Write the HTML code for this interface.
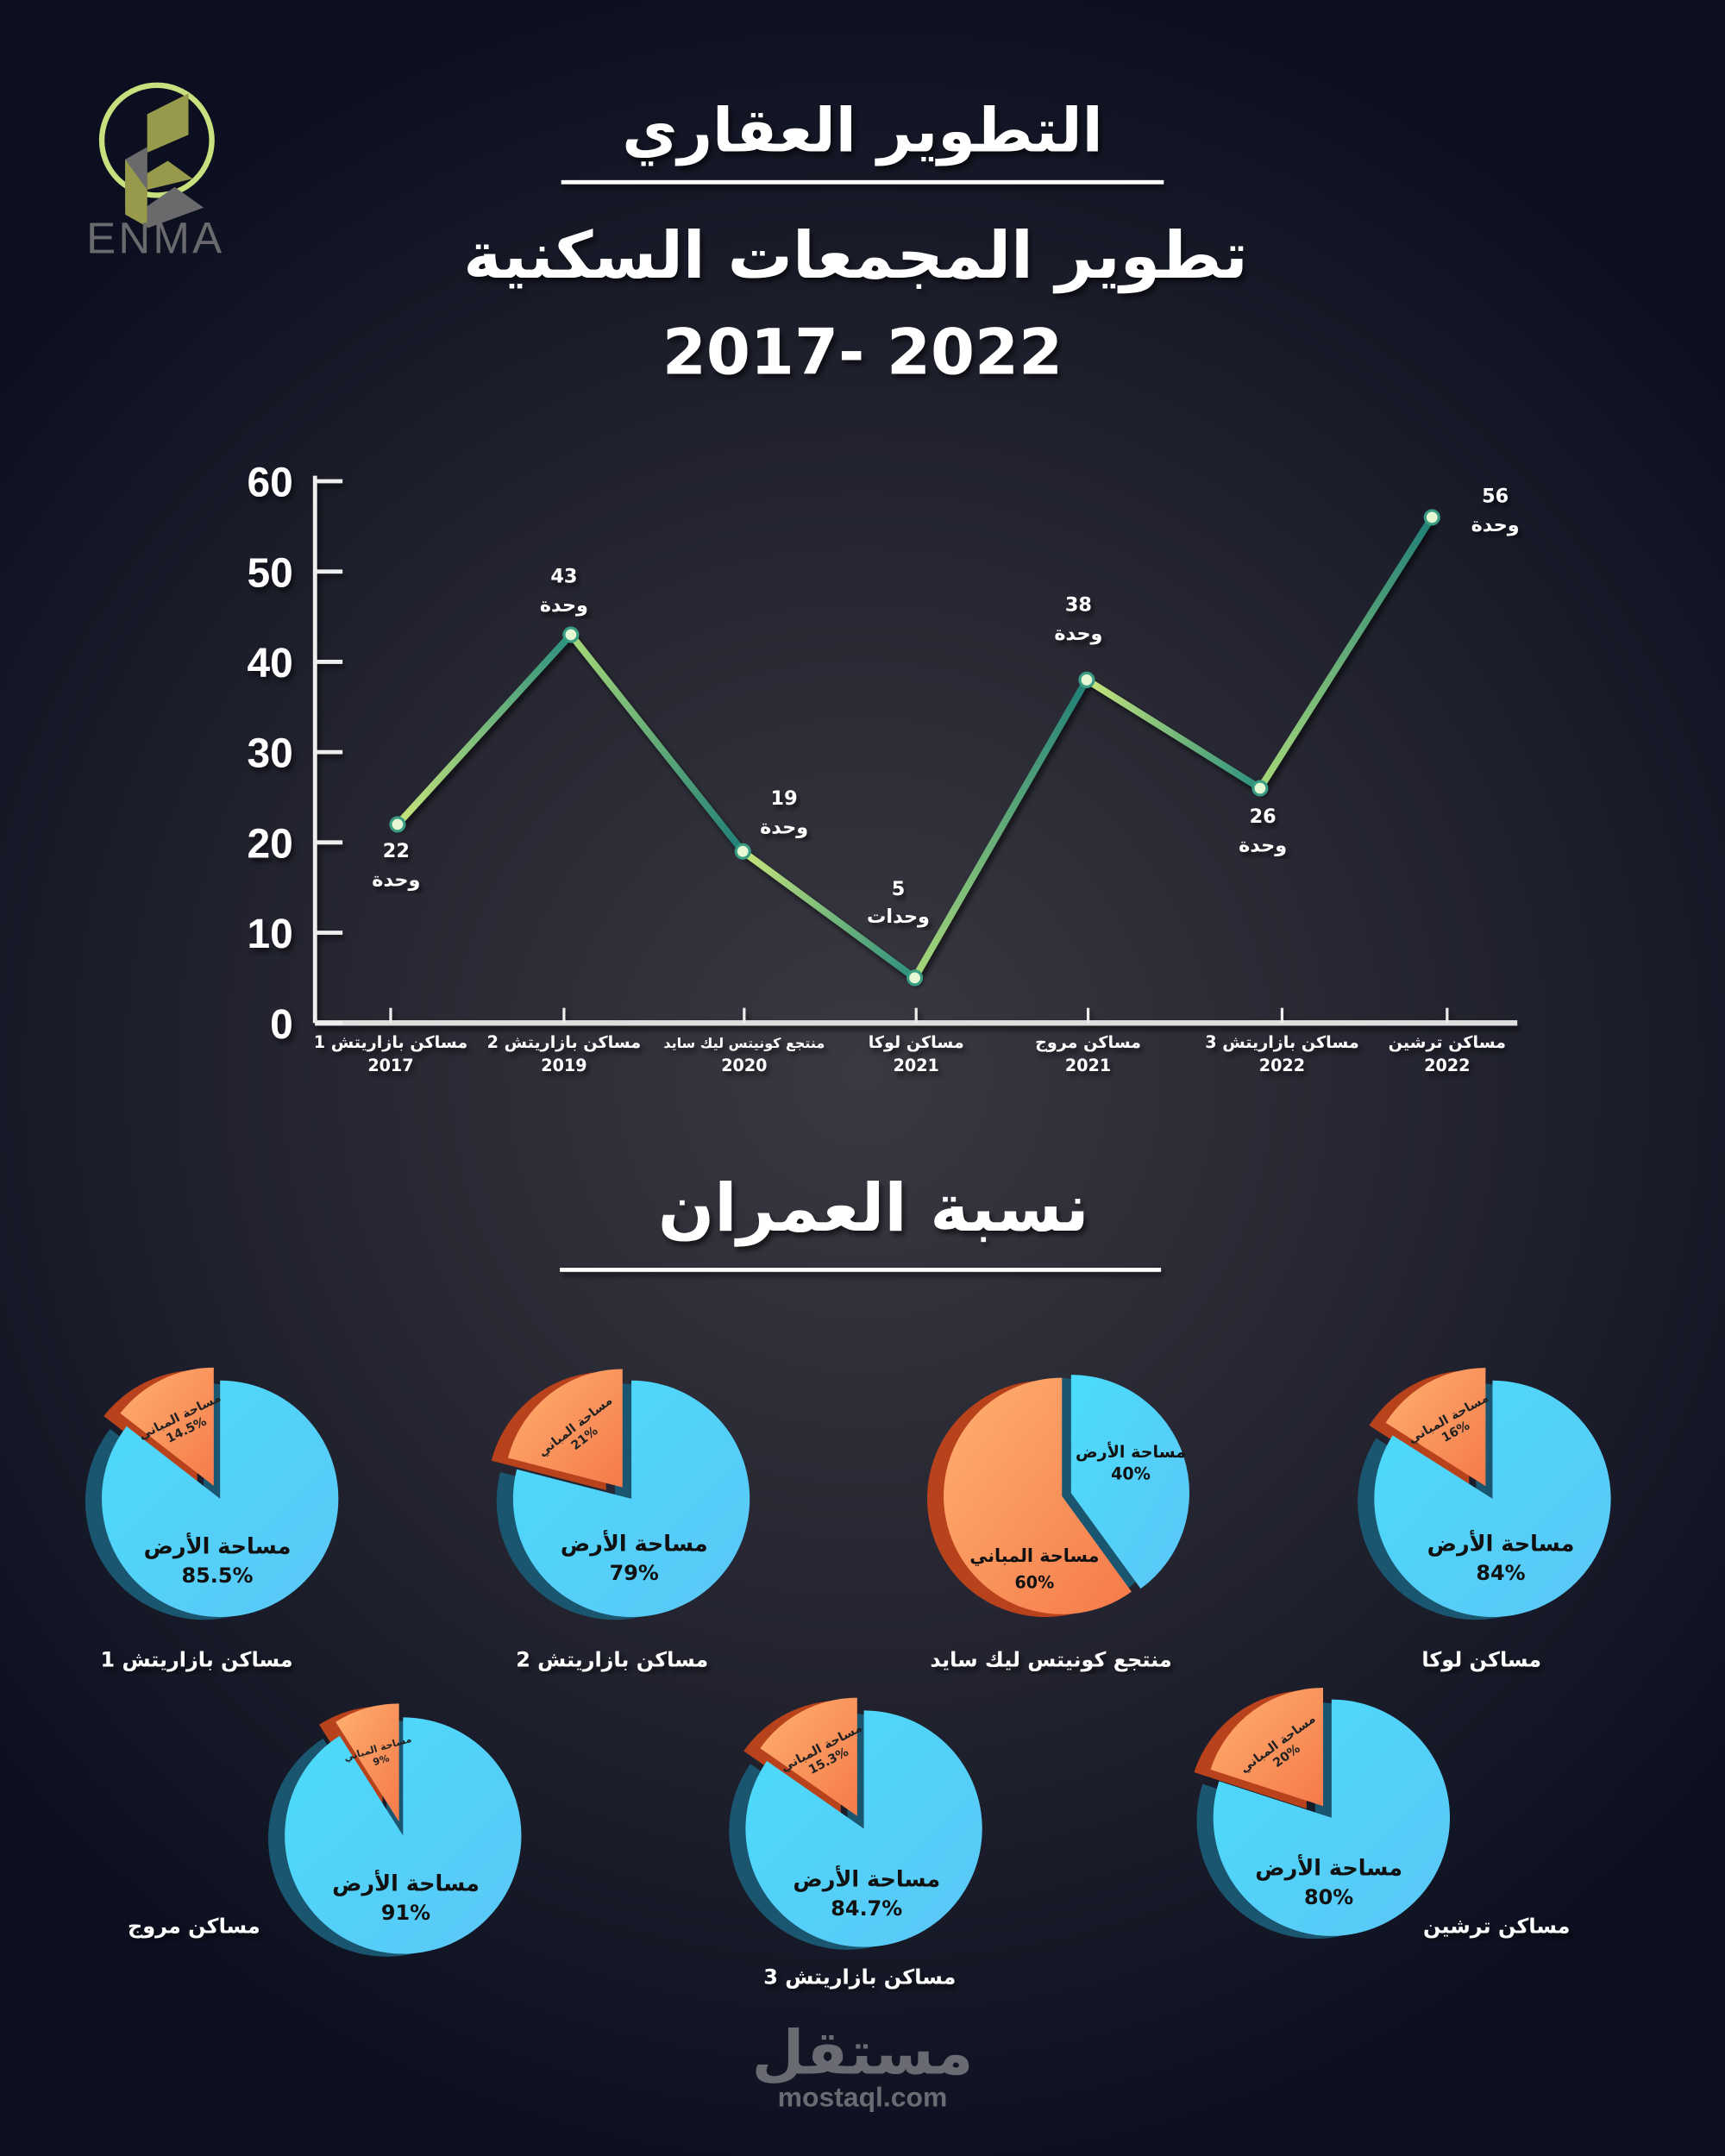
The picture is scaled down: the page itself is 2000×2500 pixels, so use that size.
<!DOCTYPE html>
<html><head><meta charset="utf-8">
<style>
html,body{margin:0;padding:0;background:#0c1020;}
svg{display:block;}
text{font-family:"DejaVu Sans","Liberation Sans",sans-serif;font-weight:bold;}
</style></head>
<body>
<svg id="root" width="2000" height="2500" viewBox="0 0 1254 1568" preserveAspectRatio="none" xmlns="http://www.w3.org/2000/svg">
<defs>
<radialGradient id="bg" cx="627" cy="780" r="820" gradientUnits="userSpaceOnUse">
<stop offset="0" stop-color="#3a3942"/><stop offset="0.55" stop-color="#22232f"/><stop offset="1" stop-color="#0b0f1f"/>
</radialGradient>
<linearGradient id="blueG" x1="0" y1="0" x2="1" y2="1"><stop offset="0" stop-color="#4adcfb"/><stop offset="1" stop-color="#5cc6f6"/></linearGradient>
<linearGradient id="orG" x1="0" y1="0" x2="1" y2="1"><stop offset="0" stop-color="#ffb070"/><stop offset="1" stop-color="#f57a4a"/></linearGradient>
<filter id="sh"><feDropShadow dx="2" dy="3" stdDeviation="2" flood-color="#000" flood-opacity="0.6"/></filter>
</defs>
<rect x="0" y="0" width="1254" height="1568" fill="url(#bg)"/>

<g>
<circle cx="114" cy="102" r="40" fill="none" stroke="#c9e07e" stroke-width="4"/>
<polygon points="107,83 137,68 137,98 107,111" fill="#969a4a"/>
<polygon points="91,116 107,107 107,160 91,150" fill="#969a4a"/>
<polygon points="91,148 107,158 107,165 91,156" fill="#969a4a"/>
<polygon points="91,116 107,126 107,158 91,148" fill="#969a4a"/>
<polygon points="107,126 122,117 140,130 107,138" fill="#969a4a"/>
<polygon points="91,116 107,107 107,138" fill="#6a6a6c"/>
<polygon points="107,150 127,136 148,151 107,166" fill="#6a6a6c"/>
<text x="113" y="184" font-size="32" fill="#6a6a6e" text-anchor="middle" style="font-family:'Liberation Sans',sans-serif;font-weight:normal;letter-spacing:2px">ENMA</text>
</g>

<g filter="url(#sh)">
<text x="627" y="110" font-size="44" fill="#fff" text-anchor="middle">التطوير العقاري</text>
<rect x="408" y="131" width="438" height="3" fill="#fff"/>
<text x="622" y="202" font-size="47" fill="#fff" text-anchor="middle">تطوير المجمعات السكنية</text>
<text x="627" y="272" font-size="46" fill="#fff" text-anchor="middle" direction="ltr">2017- 2022</text>
<text x="635" y="895" font-size="48" fill="#fff" text-anchor="middle">نسبة العمران</text>
<rect x="407" y="922" width="437" height="3" fill="#fff"/>
</g>

<g id="chart"></g>
<g id="pies"></g>

<g>
<text x="627" y="1508" font-size="44" fill="#6a6b72" text-anchor="middle">مستقل</text>
<text x="627" y="1532" font-size="20" fill="#6a6b72" text-anchor="middle" style="font-family:'Liberation Sans',sans-serif">mostaql.com</text>
</g>
</svg>
<script>
const NS='http://www.w3.org/2000/svg';
const categories=['مساكن بازاريتش 1','مساكن بازاريتش 2','منتجع كونيتس ليك سايد','مساكن لوكا','مساكن مروج','مساكن بازاريتش 3','مساكن ترشين'];
const years=['2017','2019','2020','2021','2021','2022','2022'];
const units=[22,43,19,5,38,26,56];
const unitWords=['وحدة','وحدة','وحدة','وحدات','وحدة','وحدة','وحدة'];
const yTicks=[0,10,20,30,40,50,60];
const landPct=[85.5,79,40,84,91,84.7,80];
const buildPct=[14.5,21,60,16,9,15.3,20];
const pieNames=['مساكن بازاريتش 1','مساكن بازاريتش 2','منتجع كونيتس ليك سايد','مساكن لوكا','مساكن مروج','مساكن بازاريتش 3','مساكن ترشين'];

function mk(tag,attrs,parent){const e=document.createElementNS(NS,tag);for(const k in attrs)e.setAttribute(k,attrs[k]);parent.appendChild(e);return e;}

const X0=229,X1=1103,Y0=744,Y60=350;
const xs=[284,410,541,666,791,932,1052];
const ptX=[289,415,540,665,790,916,1041];
function yS(v){return Y0-(v/60)*(Y0-Y60);}
const chart=document.getElementById('chart');
const ax=mk('g',{filter:'url(#sh)'},chart);
const yAxis=mk('line',{x1:X0,y1:Y60-4,x2:X0,y2:Y0,stroke:'#eee','stroke-width':3},ax);


const xAxis=mk('line',{x1:X0,y1:Y0,x2:X1,y2:Y0,stroke:'#ddd','stroke-width':4},ax);


yTicks.forEach(v=>{
  const y=yS(v);
  mk('line',{x1:X0,y1:y,x2:X0+20,y2:y,stroke:'#eee','stroke-width':3},ax);
  const t=mk('text',{x:213,y:y+11,'font-size':30,fill:'#fff','text-anchor':'end',style:"font-family:'Liberation Sans',sans-serif;font-weight:bold"},ax);
  t.textContent=v;
  
  
});
categories.forEach((c,i)=>{
  mk('line',{x1:xs[i],y1:Y0-11,x2:xs[i],y2:Y0,stroke:'#eee','stroke-width':2},ax);
  const t=mk('text',{x:xs[i],y:762,'font-size':i==2?10:12,fill:'#fff','text-anchor':'middle'},ax);
  t.textContent=c;
  
  
  const t2=mk('text',{x:xs[i],y:779,'font-size':12,fill:'#fff','text-anchor':'middle'},ax);
  t2.textContent=years[i];
  
  
});
const defs=document.querySelector('defs');
for(let i=0;i<units.length-1;i++){
  const x1=ptX[i],y1=yS(units[i]),x2=ptX[i+1],y2=yS(units[i+1]);
  const g=mk('linearGradient',{id:'sg'+i,gradientUnits:'userSpaceOnUse',x1:x1,y1:y1,x2:x2,y2:y2},defs);
  mk('stop',{offset:0,'stop-color':i%2==0?'#c8e57a':'#a7d879'},g);
  mk('stop',{offset:1,'stop-color':i%2==0?'#2a8f7e':'#1f7f78'},g);
  const s=mk('line',{x1:x1,y1:y1,x2:x2,y2:y2,stroke:'url(#sg'+i+')','stroke-width':5,'stroke-linecap':'round',filter:'url(#sh)'},chart);
  
  
}
const lblOff=[[-1,24,45],[-5,-38,-17],[30,-34,-13],[-12,-60,-40],[-6,-50,-29],[2,25,46],[46,-11,10]];
units.forEach((v,i)=>{
  const x=ptX[i],y=yS(v);
  const p=mk('circle',{cx:x,cy:y,r:5,fill:'#e6f7d4',stroke:'#3a9c82','stroke-width':2},chart);
  
  
  const o=lblOff[i];
  const t=mk('text',{x:x+o[0],y:y+o[1],'font-size':14,fill:'#fff','text-anchor':'middle',filter:'url(#sh)'},chart);
  t.textContent=v;
  
  
  const t2=mk('text',{x:x+o[0],y:y+o[2],'font-size':14,fill:'#fff','text-anchor':'middle',filter:'url(#sh)'},chart);
  t2.textContent=unitWords[i];
  
  
});

const pieC=[[160,1090],[459,1090],[772,1088],[1085,1090],[293,1335],[628,1330],[968,1322]];
const mainLbl=[[-2,40],[2,38],[-20,50],[6,38],[2,40],[2,42],[-2,42]];
const nameLbl=[[143,1212],[445,1212],[764,1212],[1077,1212],[141,1406],[625,1443],[1088,1406]];
const R=86;
const pies=document.getElementById('pies');
function rad(d){return d*Math.PI/180;}
function sector(cx,cy,a0,a1,fill,par){
  const large=Math.abs(a1-a0)>180?1:0;
  const sx=cx+R*Math.cos(rad(a0)),sy=cy+R*Math.sin(rad(a0)),ex=cx+R*Math.cos(rad(a1)),ey=cy+R*Math.sin(rad(a1));
  const sw=a1>a0?1:0;
  return mk('path',{d:`M${cx},${cy} L${sx},${sy} A${R},${R} 0 ${large} ${sw} ${ex},${ey} Z`,fill:fill},par);
}
landPct.forEach((lp,i)=>{
  const bp=buildPct[i];
  const g=mk('g',{},pies);
  
  
  const [cx,cy]=pieC[i];
  const oa0=-90,oa1=-90-bp*3.6;
  const ba0=-90,ba1=-90+lp*3.6;
  const explodeBlue=lp<bp;
  const e=7;
  let bx=cx,by=cy,ox=cx,oy=cy;
  if(explodeBlue){const m=(ba0+ba1)/2;bx+=e*Math.cos(rad(m));by+=e*Math.sin(rad(m));}
  else{const m=(oa0+oa1)/2;ox+=e*1.5*Math.cos(rad(m));oy+=e*1.5*Math.sin(rad(m));}
  sector(bx-12,by+2,ba0,ba1,'#1b5670',g);
  sector(ox-12,oy+2,oa1,oa0,'#b8421c',g);
  const b=sector(bx,by,ba0,ba1,'url(#blueG)',g);
  
  
  const o=sector(ox,oy,oa1,oa0,'url(#orG)',g);
  
  
  if(!explodeBlue){
    const m=(oa0+oa1)/2,d=R*0.62;
    const tx=ox+d*Math.cos(rad(m)),ty=oy+d*Math.sin(rad(m));
    const fs=bp<12?7:9;
    const t=mk('text',{x:tx,y:ty,'font-size':fs,fill:'#222','text-anchor':'middle',transform:`rotate(${m+90} ${tx} ${ty})`},g);
    t.textContent='مساحة المباني';
    
    
    const t2=mk('text',{x:tx,y:ty+fs+2,'font-size':fs,fill:'#222','text-anchor':'middle',transform:`rotate(${m+90} ${tx} ${ty})`},g);
    t2.textContent=bp+'%';
    
    
    const [lx,ly]=mainLbl[i];
    const a=mk('text',{x:cx+lx,y:cy+ly,'font-size':16,fill:'#111','text-anchor':'middle'},g);
    a.textContent='مساحة الأرض';
    
    
    const a2=mk('text',{x:cx+lx,y:cy+ly+21,'font-size':15,fill:'#111','text-anchor':'middle'},g);
    a2.textContent=lp+'%';
    
    
  } else {
    const a=mk('text',{x:cx+50,y:cy-28,'font-size':12,fill:'#111','text-anchor':'middle'},g);
    a.textContent='مساحة الأرض';
    
    
    const a2=mk('text',{x:cx+50,y:cy-12,'font-size':12,fill:'#111','text-anchor':'middle'},g);
    a2.textContent=lp+'%';
    
    
    const [lx,ly]=mainLbl[i];
    const c=mk('text',{x:cx+lx,y:cy+ly-2,'font-size':13,fill:'#111','text-anchor':'middle'},g);
    c.textContent='مساحة المباني';
    
    
    const c2=mk('text',{x:cx+lx,y:cy+ly+17,'font-size':12,fill:'#111','text-anchor':'middle'},g);
    c2.textContent=bp+'%';
    
    
  }
  const n=mk('text',{x:nameLbl[i][0],y:nameLbl[i][1],'font-size':15,fill:'#fff','text-anchor':'middle',filter:'url(#sh)'},g);
  n.textContent=pieNames[i];
  
  
});
</script>
</body></html>
